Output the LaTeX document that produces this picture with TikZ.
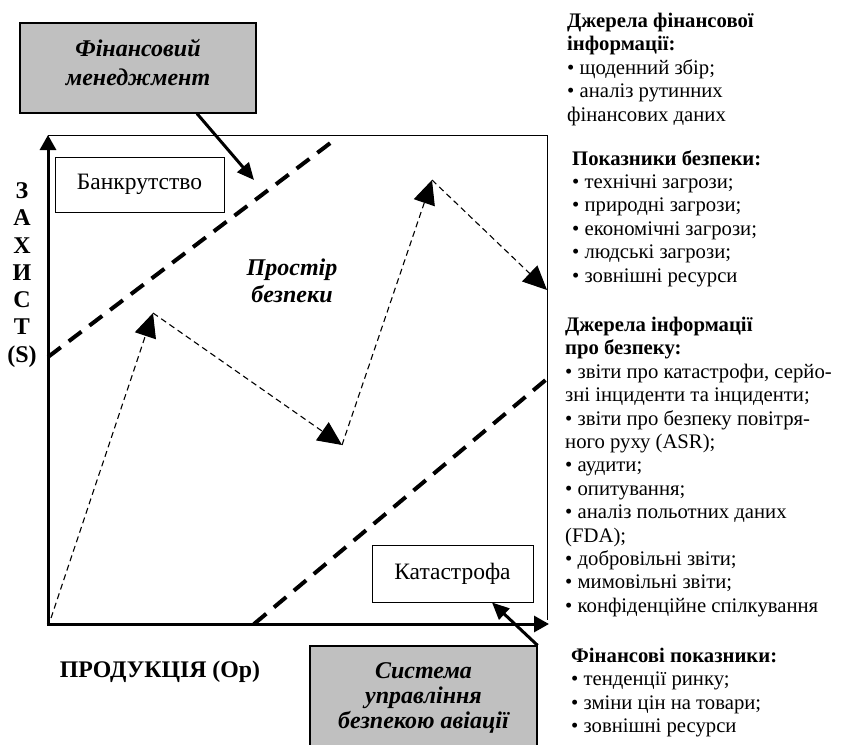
\documentclass[tikz,border=0pt]{standalone}
\usepackage{fontspec}
\setmainfont{Liberation Serif}
\usetikzlibrary{arrows.meta}
\definecolor{boxgray}{RGB}{192,192,192}
\tikzset{
  graybox/.style={draw, line width=1.2pt, fill=boxgray, align=center,
    font=\fontsize{24}{#1}\selectfont\bfseries\itshape},
  whitebox/.style={draw, line width=1pt, fill=white,
    font=\fontsize{23.5}{26}\selectfont},
  infotext/.style={anchor=north west, inner sep=0pt, align=left,
    font=\fontsize{20.7}{23.4}\selectfont},
  bigarrow/.style={line width=3pt, -{Triangle[length=17pt,width=15pt]}},
  axisarrow/.style={line width=3pt, -{Triangle[length=15pt,width=16pt]}},
  boundary/.style={line width=4pt, dash pattern=on 16pt off 10pt},
  flow/.style={line width=1.1pt, dash pattern=on 6pt off 4pt,
    -{Triangle[length=24pt,width=22pt]}}
}
\begin{document}
\begin{tikzpicture}[x=1pt,y=-1pt]
    \useasboundingbox (0,0) rectangle (842,744);
    % axes and frame
    \coordinate (O) at (48,624);
    \coordinate (ytop) at (48,135);
    \coordinate (xend) at (549,624);
    \coordinate (frameNE) at (547,135);
    \coordinate (frameSE) at (547,620);
    \draw[line width=1pt] (ytop) -- (frameNE) -- (frameSE);
    \draw[axisarrow] (O) -- (ytop);
    \draw[axisarrow] ([xshift=-1.5pt]O) -- (xend);
    % safety space boundaries
    \coordinate (upA) at (48,357);
    \coordinate (upB) at (333,141);
    \coordinate (loA) at (254,624);
    \coordinate (loB) at (548,378);
    \draw[boundary] (upA) -- (upB);
    \draw[boundary] (loA) -- (loB);
    % boxes
    \node[graybox=29, minimum width=236pt, minimum height=90pt] (finman) at (138,68) {};
    \node[font=\fontsize{24}{29}\selectfont\bfseries\itshape, align=center] (finmantext) at (138,62.5) {Фінансовий\\менеджмент};
    \node[whitebox, minimum width=169pt, minimum height=55pt] (bankrut) at (139.5,184.5) {Банкрутство};
    \node[whitebox, minimum width=161pt, minimum height=57pt] (kat) at (452.5,573.5) {Катастрофа};
    \node[graybox=25, minimum width=227pt, minimum height=103pt] (sys) at (423.5,697.5) {Система\\управління\\безпекою авіації};
    \coordinate (finTip) at (254,180);
    \draw[bigarrow] ([xshift=59pt]finman.south) -- (finTip);
    \draw[bigarrow] (sys.north east) -- ([xshift=39.5pt]kat.south);
    % path inside safety space
    \coordinate (p0) at (51,618);
    \coordinate (p1) at (153,313);
    \coordinate (p2) at (342,445);
    \coordinate (p3) at (432,180);
    \coordinate (p4) at (547,290);
    \draw[flow] (p0) -- (p1);
    \draw[flow] (p1) -- (p2);
    \draw[flow] (p2) -- (p3);
    \draw[flow] (p3) -- (p4);
    \node[font=\fontsize{24}{27}\selectfont\bfseries\itshape, align=center] (space) at (292,281) {Простір\\безпеки};
    % axis labels
    \node[font=\fontsize{24}{27.3}\selectfont\bfseries, align=center] (ylabel) at (22,275) {З\\А\\Х\\И\\С\\Т\\(S)};
    \node[font=\fontsize{23.8}{26}\selectfont\bfseries] (xlabel) at (160,672) {ПРОДУКЦІЯ (Op)};
    % information sources
    \node[infotext] (fininfo) at (567,13) {\textbf{Джерела фінансової}\\\textbf{інформації:}\\• щоденний збір;\\• аналіз рутинних\\фінансових даних};
    \node[infotext] (safeind) at (572,150) {\textbf{Показники безпеки:}\\• технічні загрози;\\• природні загрози;\\• економічні загрози;\\• людські загрози;\\• зовнішні ресурси};
    \node[infotext] (safeinfo) at (565,317) {\textbf{Джерела інформації}\\\textbf{про безпеку:}\\• звіти про катастрофи, серйо-\\зні інциденти та інциденти;\\• звіти про безпеку повітря-\\ного руху (ASR);\\• аудити;\\• опитування;\\• аналіз польотних даних\\(FDA);\\• добровільні звіти;\\• мимовільні звіти;\\• конфіденційне спілкування};
    \node[infotext] (finind) at (571,648) {\textbf{Фінансові показники:}\\• тенденції ринку;\\• зміни цін на товари;\\• зовнішні ресурси};
\end{tikzpicture}
\end{document}
